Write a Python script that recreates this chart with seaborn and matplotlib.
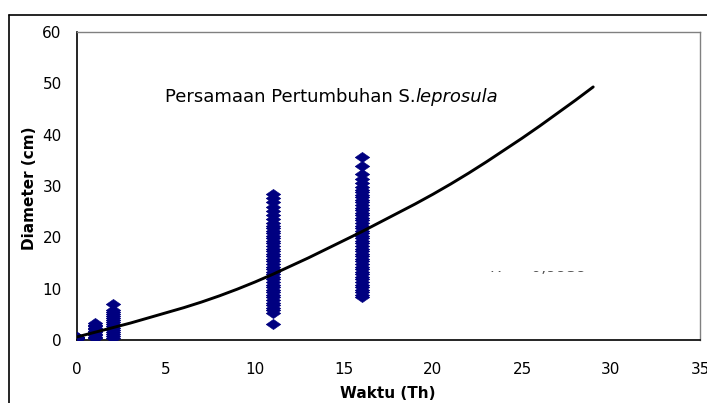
import matplotlib
matplotlib.use("Agg")
import matplotlib.pyplot as plt
import matplotlib.transforms as mtransforms
from matplotlib.lines import Line2D
import seaborn as sns
import pandas as pd

# ---- data ----
age_0 = [0.2, 0.3, 0.4, 0.5, 0.6]
age_1 = [0.3, 0.6, 0.9, 1.2, 1.5, 1.8, 2.1, 2.4, 2.7, 3.0, 3.4]
age_2 = [0.3, 0.7, 1.1, 1.5, 1.9, 2.3, 2.7, 3.1, 3.5, 3.9, 4.3, 4.7,
         5.1, 5.5, 5.9, 7.1]
age_11 = [3.2, 5.3, 5.8, 6.3, 6.8, 7.3, 7.8, 8.3, 8.8, 9.3, 9.8, 10.3, 10.8,
          11.3, 11.8, 12.3, 12.8, 13.3, 13.8, 14.3, 14.8, 15.3, 15.8, 16.3,
          16.8, 17.3, 17.8, 18.3, 18.8, 19.3, 19.8, 20.3, 20.8, 21.3, 21.8,
          22.3, 22.8, 23.6, 24.4, 25.2, 26.0, 26.8, 27.6, 28.5]
age_16 = [8.3, 8.8, 9.3, 9.8, 10.3, 10.8, 11.3, 11.8, 12.3, 12.8, 13.3, 13.8,
          14.3, 14.8, 15.3, 15.8, 16.3, 16.8, 17.3, 17.8, 18.3, 18.8, 19.3,
          19.8, 20.3, 20.8, 21.3, 21.8, 22.3, 22.8, 23.3, 23.8, 24.3, 24.8,
          25.3, 25.8, 26.3, 26.8, 27.3, 27.8, 28.3, 28.8, 29.3, 29.8, 30.6,
          31.4, 32.4, 33.8, 35.6]
group_ages = [0, 1, 2, 11, 16]
group_diameters = [age_0, age_1, age_2, age_11, age_16]

curve_x = list(range(0, 30))
curve_y = [0.6, 1.5, 2.4, 3.3, 4.3, 5.3, 6.3, 7.4, 8.6, 9.9, 11.3, 12.8, 14.4,
           16.0, 17.7, 19.4, 21.1, 22.9, 24.7, 26.5, 28.4, 30.4, 32.5, 34.7,
           37.0, 39.3, 41.7, 44.2, 46.7, 49.3]

x_ticks = [0, 5, 10, 15, 20, 25, 30, 35]
y_ticks = [0, 10, 20, 30, 40, 50, 60]

title_text = "Persamaan Pertumbuhan S."
title_italic = "leprosula"
x_label = "Waktu (Th)"
y_label = "Diameter (cm)"
r2_text = "R² = 0,9939"

rows = []
for a, ds in zip(group_ages, group_diameters):
    for d in ds:
        rows.append({"Waktu": a, "Diameter": d})
df = pd.DataFrame(rows)
curve_df = pd.DataFrame({"Waktu": curve_x, "Diameter": curve_y})

# ---- style ----
sns.set_style("white")
plt.rcParams['font.family'] = ['DejaVu Sans']
plt.rcParams['text.color'] = 'black'

fig = plt.figure(figsize=(7.07, 4.03), dpi=100)
ax = fig.add_axes([77/707, 63/403, 623/707, 308/403])

# wide diamond (the reference is horizontally stretched)
wide_diamond = [(-1.0, 0.0), (0.0, 0.7), (1.0, 0.0), (0.0, -0.7), (-1.0, 0.0)]
sns.scatterplot(data=df, x="Waktu", y="Diameter", marker=wide_diamond, s=110,
                color="#000080", edgecolor="#000080", linewidth=0.4,
                ax=ax, zorder=3)
sns.lineplot(data=curve_df, x="Waktu", y="Diameter", color="black",
             linewidth=2.1, ax=ax, zorder=4)

ax.set_xlim(0, 35)
ax.set_ylim(0, 60)
ax.set_xticks(x_ticks)
ax.set_yticks(y_ticks)
ax.tick_params(axis="both", direction="out", width=1,
               labelsize=11, colors="black")
ax.tick_params(axis="x", length=4, pad=12)
ax.tick_params(axis="y", length=10, pad=1)
for s in ["left", "bottom"]:
    ax.spines[s].set_color("black")
    ax.spines[s].set_linewidth(1.2)
for s in ["top", "right"]:
    ax.spines[s].set_color("#808080")
    ax.spines[s].set_linewidth(1.0)

ax.set_xlabel("")
ax.set_ylabel("")
fig.text(388/707, 1 - 394/403, x_label, fontsize=11, fontweight="bold",
         ha="center", va="center", color="black")
fig.text(29/707, 1 - 188/403, y_label, rotation=90, fontsize=11,
         fontweight="bold", ha="center", va="center", color="black")

t1 = fig.text(165/707, 1 - 97/403, title_text, fontsize=13,
              ha="left", va="center", color="black")
fig.canvas.draw()
bb = t1.get_window_extent()
fig.text(bb.x1 / 707, 1 - 97/403, title_italic, fontsize=13,
         style="italic", ha="left", va="center", color="black")

# partially hidden R^2 label
r2 = fig.text(490/707, 1 - 267.5/403, r2_text, fontsize=11.5, ha="left",
              va="center", color="#555555")
clip = mtransforms.Bbox.from_extents(480, 403 - 274, 600, 403 - 270.5)
r2.set_clip_box(clip)
r2.set_clip_on(True)

# outer chart frame
fig.add_artist(Line2D([9/707, 9/707], [0, 1 - 15/403], color="black",
                      linewidth=1.2, transform=fig.transFigure))
fig.add_artist(Line2D([9/707, 1], [1 - 15/403, 1 - 15/403], color="black",
                      linewidth=1.2, transform=fig.transFigure))

fig.savefig("out.png", dpi=100)
